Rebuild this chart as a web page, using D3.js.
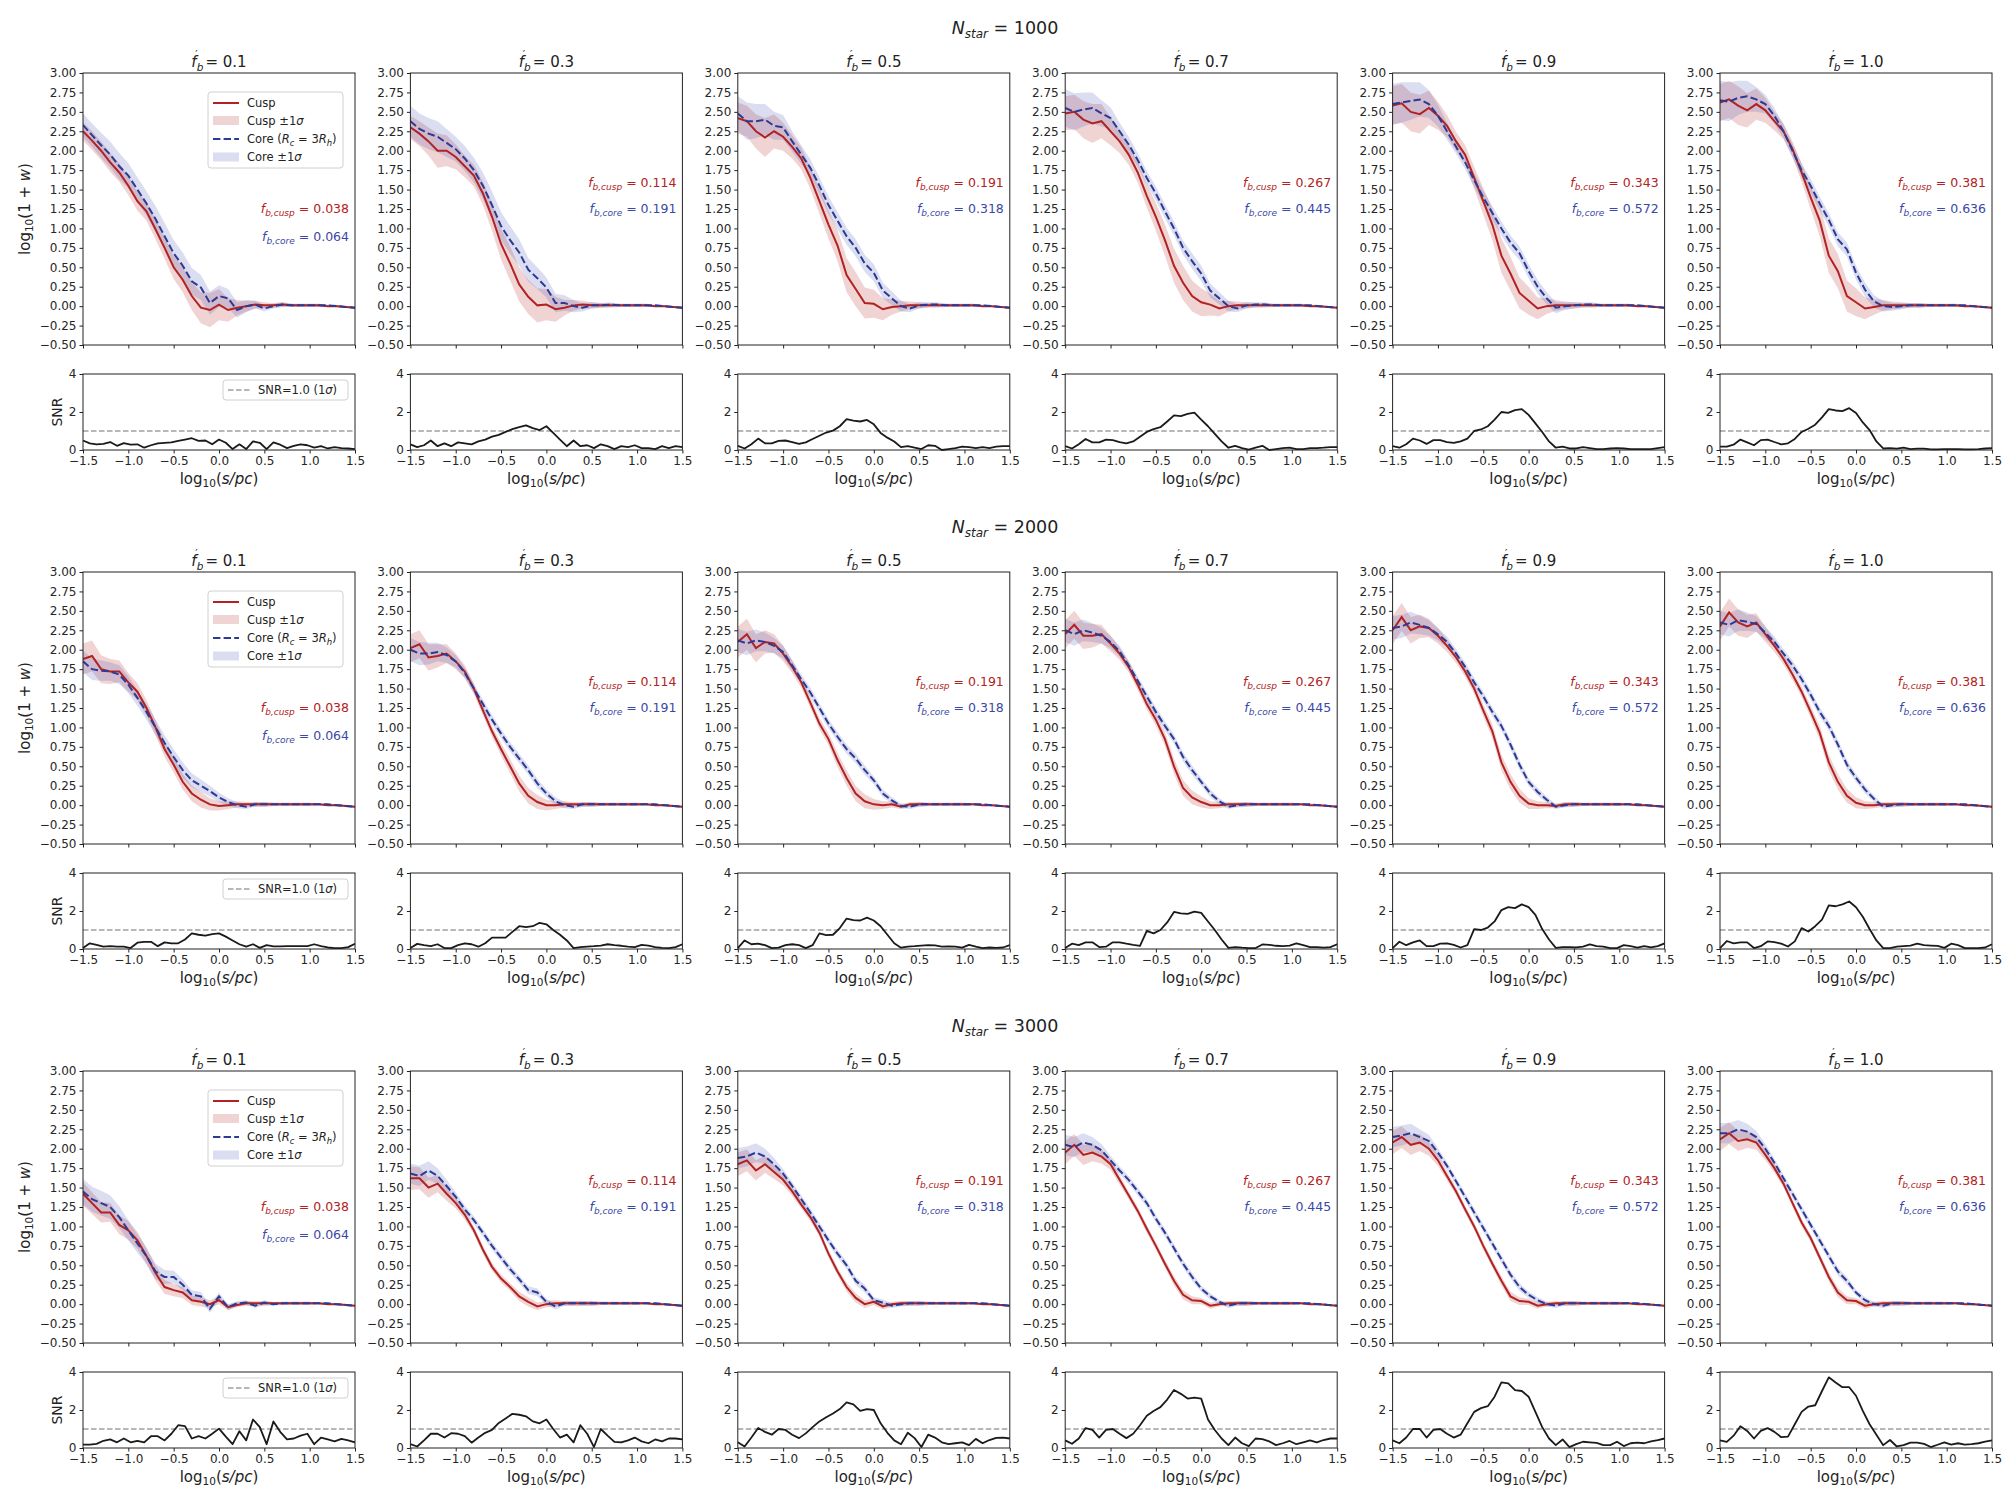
<!DOCTYPE html>
<html>
<head>
<meta charset="utf-8">
<script src="https://cdn.jsdelivr.net/npm/d3@7"></script>
<style>
body { margin: 0; background: #fff; }
svg { font-family: "DejaVu Sans", sans-serif; }
</style>
</head>
<body>
<script>
let width = 2016;
let height = 1506;

let nStars = ["1000", "2000", "3000"];
let fbPrime = ["0.1", "0.3", "0.5", "0.7", "0.9", "1.0"];
let fbCusp = ["0.038", "0.114", "0.191", "0.267", "0.343", "0.381"];
let fbCore = ["0.064", "0.191", "0.318", "0.445", "0.572", "0.636"];

let xTicks = [-1.5, -1.0, -0.5, 0.0, 0.5, 1.0, 1.5];
let yTicks = [-0.5, -0.25, 0, 0.25, 0.5, 0.75, 1, 1.25, 1.5, 1.75, 2, 2.25, 2.5, 2.75, 3];
let snrTicks = [0, 2, 4];

let xMain = [-1.5,-1.4,-1.3,-1.2,-1.1,-1.0,-0.9,-0.8,-0.7,-0.6,-0.5,-0.4,-0.3,-0.2,-0.1,0.0,0.1,0.2,0.3,0.4,0.5,0.6,0.7,0.8,0.9,1.0,1.1,1.2,1.3,1.4,1.5];
let xSnr = [-1.5,-1.425,-1.35,-1.275,-1.2,-1.125,-1.05,-0.975,-0.9,-0.825,-0.75,-0.675,-0.6,-0.525,-0.45,-0.375,-0.3,-0.225,-0.15,-0.075,0,0.075,0.15,0.225,0.3,0.375,0.45,0.525,0.6,0.675,0.75,0.825,0.9,0.975,1.05,1.125,1.2,1.275,1.35,1.425,1.5];

// mean log10(1+w), cusp model
let cusp1000 = [
  [2.25,2.13,2.0,1.85,1.72,1.55,1.35,1.22,0.99,0.75,0.5,0.34,0.13,-0.02,-0.05,0.02,-0.05,-0.02,0.0,0.02,0.01,0.01,0.02,0.01,0.01,0.01,0.01,0.0,0.0,-0.01,-0.02],
  [2.3,2.22,2.12,2.0,2.0,1.92,1.8,1.68,1.45,1.15,0.8,0.55,0.28,0.12,0.01,0.02,-0.04,-0.02,0.01,0.02,0.01,0.01,0.01,0.01,0.01,0.01,0.01,0.0,0.0,-0.01,-0.02],
  [2.42,2.38,2.25,2.17,2.25,2.18,2.05,1.9,1.65,1.35,1.05,0.78,0.4,0.22,0.04,0.03,-0.04,-0.01,0.0,0.01,0.01,0.01,0.01,0.01,0.01,0.01,0.01,0.0,0.0,-0.01,-0.02],
  [2.48,2.5,2.4,2.35,2.38,2.25,2.12,1.95,1.72,1.42,1.15,0.85,0.52,0.3,0.13,0.05,0.02,-0.03,0.0,0.01,0.01,0.01,0.01,0.01,0.01,0.01,0.01,0.0,0.0,-0.01,-0.02],
  [2.58,2.61,2.5,2.47,2.55,2.45,2.32,2.12,1.95,1.65,1.35,1.05,0.65,0.42,0.17,0.07,-0.03,0.0,0.01,0.01,0.01,0.01,0.01,0.01,0.01,0.01,0.01,0.0,0.0,-0.01,-0.02],
  [2.62,2.66,2.58,2.52,2.6,2.52,2.38,2.25,2.02,1.72,1.4,1.1,0.65,0.45,0.13,0.05,-0.03,-0.01,0.01,0.01,0.01,0.01,0.01,0.01,0.01,0.01,0.01,0.0,0.0,-0.01,-0.02]
];
let cusp2000 = [
  [1.88,1.92,1.75,1.72,1.72,1.58,1.46,1.25,1.0,0.72,0.52,0.3,0.15,0.07,0.01,-0.01,0.0,0.01,0.01,0.01,0.01,0.01,0.01,0.01,0.01,0.01,0.01,0.0,0.0,-0.01,-0.02],
  [2.02,2.07,1.9,1.92,1.95,1.85,1.72,1.5,1.22,0.95,0.72,0.5,0.28,0.12,0.04,0.0,0.0,0.01,0.01,0.01,0.01,0.01,0.01,0.01,0.01,0.01,0.01,0.0,0.0,-0.01,-0.02],
  [2.1,2.2,2.02,2.1,2.08,1.95,1.78,1.58,1.32,1.05,0.85,0.58,0.35,0.15,0.05,0.01,0.0,0.01,-0.02,0.01,0.01,0.01,0.01,0.01,0.01,0.01,0.01,0.0,0.0,-0.01,-0.02],
  [2.2,2.32,2.18,2.18,2.2,2.08,1.95,1.78,1.55,1.3,1.1,0.85,0.5,0.22,0.1,0.04,0.0,0.0,0.01,0.01,0.01,0.01,0.01,0.01,0.01,0.01,0.01,0.0,0.0,-0.01,-0.02],
  [2.25,2.42,2.25,2.3,2.28,2.18,2.05,1.9,1.72,1.5,1.22,0.95,0.55,0.3,0.12,0.02,0.0,0.0,-0.01,0.01,0.01,0.01,0.01,0.01,0.01,0.01,0.01,0.0,0.0,-0.01,-0.02],
  [2.3,2.48,2.35,2.3,2.35,2.2,2.05,1.88,1.68,1.46,1.2,0.93,0.55,0.3,0.12,0.03,0.0,0.0,0.01,0.01,0.01,0.01,0.01,0.01,0.01,0.01,0.01,0.0,0.0,-0.01,-0.02]
];
let cusp3000 = [
  [1.42,1.3,1.18,1.18,1.02,0.95,0.82,0.62,0.4,0.22,0.18,0.15,0.05,0.03,0.0,0.05,-0.04,-0.01,0.01,0.01,0.01,0.01,0.01,0.01,0.01,0.01,0.01,0.0,0.0,-0.01,-0.02],
  [1.62,1.62,1.5,1.55,1.42,1.3,1.15,0.95,0.7,0.48,0.33,0.22,0.1,0.03,-0.03,0.0,0.01,0.01,0.01,0.01,0.01,0.01,0.01,0.01,0.01,0.01,0.01,0.0,0.0,-0.01,-0.02],
  [1.8,1.85,1.72,1.8,1.7,1.6,1.45,1.28,1.12,0.92,0.65,0.42,0.22,0.08,0.0,0.03,-0.03,0.0,0.01,0.01,0.01,0.01,0.01,0.01,0.01,0.01,0.01,0.0,0.0,-0.01,-0.02],
  [1.95,2.05,1.92,1.95,1.9,1.8,1.6,1.4,1.2,0.97,0.75,0.52,0.3,0.12,0.05,0.04,-0.02,0.0,0.01,0.01,0.01,0.01,0.01,0.01,0.01,0.01,0.01,0.0,0.0,-0.01,-0.02],
  [2.08,2.15,2.05,2.08,2.0,1.85,1.65,1.45,1.22,1.0,0.75,0.52,0.3,0.1,0.04,0.03,-0.02,0.0,0.01,0.01,0.01,0.01,0.01,0.01,0.01,0.01,0.01,0.0,0.0,-0.01,-0.02],
  [2.12,2.2,2.1,2.12,2.08,1.92,1.75,1.55,1.3,1.05,0.85,0.6,0.35,0.15,0.05,0.04,-0.02,0.0,0.01,0.01,0.01,0.01,0.01,0.01,0.01,0.01,0.01,0.0,0.0,-0.01,-0.02]
];

// mean log10(1+w), core model (Rc = 3Rh)
let core1000 = [
  [2.33,2.2,2.07,1.95,1.8,1.68,1.5,1.32,1.12,0.9,0.68,0.52,0.32,0.24,0.04,0.13,0.1,-0.05,0.0,0.02,-0.03,0.0,0.02,0.01,0.01,0.01,0.01,0.01,0.0,-0.01,-0.02],
  [2.38,2.28,2.22,2.18,2.1,2.02,1.9,1.75,1.55,1.3,1.03,0.85,0.69,0.47,0.36,0.24,0.04,0.04,0.0,-0.02,0.01,0.01,0.02,0.01,0.01,0.01,0.01,0.01,0.0,-0.01,-0.02],
  [2.48,2.38,2.38,2.4,2.32,2.3,2.12,1.95,1.78,1.55,1.3,1.1,0.9,0.75,0.55,0.43,0.2,0.1,0.0,-0.03,0.01,0.02,0.02,0.01,0.01,0.01,0.01,0.01,0.0,-0.01,-0.02],
  [2.55,2.5,2.53,2.55,2.48,2.42,2.25,2.08,1.88,1.65,1.45,1.22,1.0,0.75,0.58,0.42,0.2,0.1,0.0,-0.03,0.01,0.02,0.02,0.01,0.01,0.01,0.01,0.01,0.0,-0.01,-0.02],
  [2.6,2.62,2.64,2.66,2.6,2.45,2.25,2.05,1.85,1.62,1.4,1.2,1.0,0.82,0.68,0.45,0.25,0.1,-0.02,0.0,0.01,0.02,0.02,0.01,0.01,0.01,0.01,0.01,0.0,-0.01,-0.02],
  [2.65,2.63,2.68,2.7,2.66,2.6,2.45,2.25,2.0,1.75,1.55,1.32,1.11,0.86,0.73,0.43,0.21,0.06,0.0,-0.01,0.0,0.01,0.01,0.01,0.01,0.01,0.01,0.01,0.0,-0.01,-0.02]
];
let core2000 = [
  [1.85,1.75,1.73,1.72,1.68,1.55,1.38,1.2,1.0,0.8,0.62,0.45,0.32,0.25,0.18,0.1,0.04,0.0,-0.02,0.01,0.01,0.01,0.01,0.01,0.01,0.01,0.01,0.01,0.0,-0.01,-0.02],
  [2.0,1.95,1.95,1.97,1.93,1.85,1.7,1.5,1.3,1.1,0.92,0.75,0.6,0.45,0.28,0.15,0.05,0.0,-0.02,0.01,0.01,0.01,0.01,0.01,0.01,0.01,0.01,0.01,0.0,-0.01,-0.02],
  [2.12,2.08,2.12,2.1,2.05,1.97,1.8,1.62,1.45,1.25,1.05,0.88,0.72,0.6,0.45,0.32,0.15,0.06,-0.01,-0.02,0.01,0.01,0.01,0.01,0.01,0.01,0.01,0.01,0.0,-0.01,-0.02],
  [2.25,2.2,2.25,2.22,2.18,2.1,1.98,1.8,1.6,1.4,1.2,1.02,0.85,0.62,0.45,0.3,0.15,0.05,-0.02,0.0,0.01,0.01,0.01,0.01,0.01,0.01,0.01,0.01,0.0,-0.01,-0.02],
  [2.28,2.3,2.35,2.32,2.28,2.2,2.1,1.95,1.78,1.58,1.4,1.2,1.02,0.78,0.52,0.3,0.17,0.07,-0.02,0.0,0.01,0.01,0.01,0.01,0.01,0.01,0.01,0.01,0.0,-0.01,-0.02],
  [2.35,2.32,2.38,2.36,2.33,2.22,2.1,1.95,1.8,1.62,1.42,1.2,1.02,0.78,0.52,0.35,0.2,0.08,-0.02,0.0,0.01,0.01,0.01,0.01,0.01,0.01,0.01,0.01,0.0,-0.01,-0.02]
];
let core3000 = [
  [1.45,1.35,1.3,1.25,1.12,0.95,0.78,0.62,0.42,0.35,0.35,0.25,0.12,0.1,-0.06,0.1,-0.04,0.01,0.02,-0.02,0.02,0.0,0.01,0.01,0.01,0.01,0.01,0.01,0.0,-0.01,-0.02],
  [1.68,1.65,1.72,1.65,1.52,1.38,1.22,1.08,0.92,0.75,0.6,0.45,0.32,0.18,0.15,0.03,-0.03,0.01,0.01,0.01,0.01,0.01,0.01,0.01,0.01,0.01,0.01,0.01,0.0,-0.01,-0.02],
  [1.88,1.9,1.95,1.9,1.8,1.68,1.52,1.35,1.18,1.0,0.82,0.65,0.5,0.3,0.2,0.05,0.02,-0.02,0.0,0.01,0.01,0.01,0.01,0.01,0.01,0.01,0.01,0.01,0.0,-0.01,-0.02],
  [2.05,2.02,2.08,2.05,1.98,1.85,1.72,1.6,1.45,1.3,1.1,0.92,0.72,0.52,0.35,0.2,0.1,0.03,-0.02,0.01,0.01,0.01,0.01,0.01,0.01,0.01,0.01,0.01,0.0,-0.01,-0.02],
  [2.15,2.17,2.2,2.15,2.1,1.95,1.78,1.58,1.38,1.18,0.98,0.78,0.58,0.38,0.22,0.12,0.05,0.0,-0.02,0.01,0.01,0.01,0.01,0.01,0.01,0.01,0.01,0.01,0.0,-0.01,-0.02],
  [2.2,2.2,2.25,2.22,2.15,2.0,1.82,1.62,1.42,1.22,1.02,0.82,0.62,0.42,0.3,0.15,0.05,0.0,-0.02,0.01,0.01,0.01,0.01,0.01,0.01,0.01,0.01,0.01,0.0,-0.01,-0.02]
];

// 1 sigma half-widths
let cuspSig1000 = [
  [0.12,0.12,0.12,0.12,0.12,0.12,0.12,0.12,0.13,0.14,0.15,0.16,0.18,0.2,0.22,0.2,0.15,0.1,0.07,0.05,0.04,0.03,0.03,0.02,0.02,0.02,0.02,0.01,0.01,0.01,0.01],
  [0.15,0.16,0.18,0.22,0.2,0.16,0.14,0.14,0.15,0.18,0.2,0.22,0.22,0.22,0.22,0.2,0.16,0.1,0.07,0.05,0.04,0.03,0.03,0.02,0.02,0.02,0.02,0.01,0.01,0.01,0.01],
  [0.2,0.2,0.22,0.25,0.22,0.18,0.15,0.14,0.14,0.16,0.18,0.2,0.22,0.22,0.2,0.18,0.14,0.1,0.07,0.05,0.04,0.03,0.03,0.02,0.02,0.02,0.02,0.01,0.01,0.01,0.01],
  [0.22,0.22,0.24,0.25,0.22,0.18,0.15,0.13,0.13,0.15,0.18,0.2,0.22,0.22,0.2,0.18,0.14,0.1,0.07,0.05,0.04,0.03,0.03,0.02,0.02,0.02,0.02,0.01,0.01,0.01,0.01],
  [0.25,0.25,0.25,0.25,0.22,0.18,0.14,0.12,0.12,0.14,0.17,0.2,0.22,0.22,0.2,0.18,0.14,0.1,0.07,0.05,0.04,0.03,0.03,0.02,0.02,0.02,0.02,0.01,0.01,0.01,0.01],
  [0.24,0.24,0.25,0.22,0.2,0.16,0.12,0.1,0.1,0.12,0.15,0.2,0.22,0.22,0.2,0.18,0.14,0.1,0.07,0.05,0.04,0.03,0.03,0.02,0.02,0.02,0.02,0.01,0.01,0.01,0.01]
];
let coreSig1000 = [
  [0.15,0.15,0.16,0.17,0.17,0.16,0.16,0.16,0.17,0.17,0.17,0.17,0.17,0.16,0.15,0.14,0.12,0.1,0.08,0.05,0.04,0.03,0.03,0.02,0.02,0.02,0.02,0.01,0.01,0.01,0.01],
  [0.2,0.2,0.2,0.2,0.18,0.16,0.16,0.16,0.17,0.18,0.18,0.18,0.17,0.15,0.14,0.13,0.12,0.1,0.08,0.05,0.04,0.03,0.03,0.02,0.02,0.02,0.02,0.01,0.01,0.01,0.01],
  [0.22,0.24,0.22,0.2,0.18,0.16,0.13,0.12,0.11,0.11,0.11,0.11,0.11,0.11,0.11,0.11,0.1,0.09,0.07,0.05,0.04,0.03,0.03,0.02,0.02,0.02,0.02,0.01,0.01,0.01,0.01],
  [0.24,0.24,0.22,0.2,0.17,0.14,0.11,0.1,0.09,0.09,0.09,0.09,0.09,0.09,0.1,0.1,0.09,0.08,0.07,0.05,0.04,0.03,0.03,0.02,0.02,0.02,0.02,0.01,0.01,0.01,0.01],
  [0.26,0.26,0.24,0.22,0.18,0.14,0.11,0.09,0.09,0.09,0.09,0.09,0.09,0.09,0.09,0.09,0.09,0.08,0.07,0.05,0.04,0.03,0.03,0.02,0.02,0.02,0.02,0.01,0.01,0.01,0.01],
  [0.25,0.25,0.22,0.2,0.16,0.12,0.1,0.09,0.09,0.09,0.09,0.09,0.09,0.09,0.09,0.09,0.09,0.08,0.07,0.05,0.04,0.03,0.03,0.02,0.02,0.02,0.02,0.01,0.01,0.01,0.01]
];
let cuspSig2000 = [
  [0.2,0.2,0.18,0.16,0.14,0.12,0.11,0.1,0.1,0.1,0.1,0.1,0.1,0.1,0.08,0.06,0.05,0.04,0.03,0.03,0.03,0.02,0.02,0.02,0.02,0.02,0.01,0.01,0.01,0.01,0.01],
  [0.18,0.18,0.17,0.15,0.12,0.1,0.08,0.07,0.07,0.07,0.08,0.09,0.1,0.1,0.09,0.07,0.05,0.04,0.03,0.03,0.03,0.02,0.02,0.02,0.02,0.02,0.01,0.01,0.01,0.01,0.01],
  [0.2,0.2,0.18,0.15,0.12,0.1,0.08,0.07,0.07,0.07,0.08,0.09,0.1,0.1,0.09,0.07,0.05,0.04,0.03,0.03,0.03,0.02,0.02,0.02,0.02,0.02,0.01,0.01,0.01,0.01,0.01],
  [0.18,0.18,0.17,0.15,0.12,0.1,0.08,0.07,0.07,0.07,0.08,0.09,0.1,0.1,0.09,0.07,0.05,0.04,0.03,0.03,0.03,0.02,0.02,0.02,0.02,0.02,0.01,0.01,0.01,0.01,0.01],
  [0.18,0.18,0.17,0.15,0.12,0.1,0.08,0.07,0.07,0.07,0.08,0.09,0.1,0.1,0.09,0.07,0.05,0.04,0.03,0.03,0.03,0.02,0.02,0.02,0.02,0.02,0.01,0.01,0.01,0.01,0.01],
  [0.18,0.18,0.17,0.15,0.12,0.1,0.08,0.07,0.07,0.07,0.08,0.09,0.1,0.1,0.09,0.07,0.05,0.04,0.03,0.03,0.03,0.02,0.02,0.02,0.02,0.02,0.01,0.01,0.01,0.01,0.01]
];
let coreSig2000 = [
  [0.14,0.14,0.13,0.12,0.12,0.11,0.1,0.1,0.1,0.1,0.1,0.1,0.09,0.08,0.07,0.06,0.05,0.04,0.03,0.03,0.03,0.02,0.02,0.02,0.02,0.02,0.01,0.01,0.01,0.01,0.01],
  [0.15,0.15,0.14,0.12,0.1,0.08,0.07,0.06,0.06,0.06,0.06,0.06,0.06,0.06,0.06,0.05,0.05,0.04,0.03,0.03,0.03,0.02,0.02,0.02,0.02,0.02,0.01,0.01,0.01,0.01,0.01],
  [0.15,0.15,0.14,0.12,0.1,0.08,0.07,0.06,0.06,0.06,0.06,0.06,0.06,0.06,0.06,0.05,0.05,0.04,0.03,0.03,0.03,0.02,0.02,0.02,0.02,0.02,0.01,0.01,0.01,0.01,0.01],
  [0.15,0.15,0.14,0.12,0.1,0.08,0.07,0.06,0.06,0.06,0.06,0.06,0.06,0.06,0.06,0.05,0.05,0.04,0.03,0.03,0.03,0.02,0.02,0.02,0.02,0.02,0.01,0.01,0.01,0.01,0.01],
  [0.15,0.15,0.14,0.12,0.1,0.08,0.07,0.06,0.06,0.06,0.06,0.06,0.06,0.06,0.06,0.05,0.05,0.04,0.03,0.03,0.03,0.02,0.02,0.02,0.02,0.02,0.01,0.01,0.01,0.01,0.01],
  [0.15,0.15,0.14,0.12,0.1,0.08,0.07,0.06,0.06,0.06,0.06,0.06,0.06,0.06,0.06,0.05,0.05,0.04,0.03,0.03,0.03,0.02,0.02,0.02,0.02,0.02,0.01,0.01,0.01,0.01,0.01]
];
let cuspSig3000 = [
  [0.15,0.14,0.13,0.12,0.12,0.12,0.11,0.1,0.1,0.09,0.08,0.07,0.06,0.06,0.05,0.05,0.04,0.03,0.03,0.03,0.03,0.02,0.02,0.02,0.02,0.02,0.01,0.01,0.01,0.01,0.01],
  [0.15,0.14,0.13,0.11,0.09,0.07,0.06,0.05,0.05,0.05,0.05,0.05,0.06,0.06,0.05,0.04,0.04,0.03,0.03,0.03,0.03,0.02,0.02,0.02,0.02,0.02,0.01,0.01,0.01,0.01,0.01],
  [0.15,0.14,0.13,0.11,0.09,0.07,0.06,0.05,0.05,0.05,0.05,0.05,0.06,0.06,0.05,0.04,0.04,0.03,0.03,0.03,0.03,0.02,0.02,0.02,0.02,0.02,0.01,0.01,0.01,0.01,0.01],
  [0.15,0.14,0.13,0.11,0.09,0.07,0.06,0.05,0.05,0.05,0.05,0.05,0.06,0.06,0.05,0.04,0.04,0.03,0.03,0.03,0.03,0.02,0.02,0.02,0.02,0.02,0.01,0.01,0.01,0.01,0.01],
  [0.15,0.14,0.13,0.11,0.09,0.07,0.06,0.05,0.05,0.05,0.05,0.05,0.06,0.06,0.05,0.04,0.04,0.03,0.03,0.03,0.03,0.02,0.02,0.02,0.02,0.02,0.01,0.01,0.01,0.01,0.01],
  [0.15,0.14,0.13,0.11,0.09,0.07,0.06,0.05,0.05,0.05,0.05,0.05,0.06,0.06,0.05,0.04,0.04,0.03,0.03,0.03,0.03,0.02,0.02,0.02,0.02,0.02,0.01,0.01,0.01,0.01,0.01]
];
let coreSig3000 = [
  [0.16,0.16,0.16,0.15,0.14,0.13,0.12,0.11,0.1,0.09,0.08,0.07,0.06,0.06,0.05,0.05,0.04,0.03,0.03,0.03,0.03,0.02,0.02,0.02,0.02,0.02,0.01,0.01,0.01,0.01,0.01],
  [0.13,0.13,0.12,0.1,0.08,0.06,0.05,0.05,0.05,0.05,0.05,0.05,0.05,0.05,0.05,0.04,0.04,0.03,0.03,0.03,0.03,0.02,0.02,0.02,0.02,0.02,0.01,0.01,0.01,0.01,0.01],
  [0.13,0.13,0.12,0.1,0.08,0.06,0.05,0.05,0.05,0.05,0.05,0.05,0.05,0.05,0.05,0.04,0.04,0.03,0.03,0.03,0.03,0.02,0.02,0.02,0.02,0.02,0.01,0.01,0.01,0.01,0.01],
  [0.13,0.13,0.12,0.1,0.08,0.06,0.05,0.05,0.05,0.05,0.05,0.05,0.05,0.05,0.05,0.04,0.04,0.03,0.03,0.03,0.03,0.02,0.02,0.02,0.02,0.02,0.01,0.01,0.01,0.01,0.01],
  [0.13,0.13,0.12,0.1,0.08,0.06,0.05,0.05,0.05,0.05,0.05,0.05,0.05,0.05,0.05,0.04,0.04,0.03,0.03,0.03,0.03,0.02,0.02,0.02,0.02,0.02,0.01,0.01,0.01,0.01,0.01],
  [0.13,0.13,0.12,0.1,0.08,0.06,0.05,0.05,0.05,0.05,0.05,0.05,0.05,0.05,0.05,0.04,0.04,0.03,0.03,0.03,0.03,0.02,0.02,0.02,0.02,0.02,0.01,0.01,0.01,0.01,0.01]
];

// SNR curves
let snr1000 = [
  [0.5,0.35,0.3,0.32,0.42,0.22,0.36,0.28,0.3,0.12,0.25,0.35,0.38,0.4,0.48,0.55,0.62,0.48,0.5,0.3,0.55,0.38,0.05,0.3,0.05,0.45,0.38,0.05,0.4,0.28,0.1,0.22,0.3,0.25,0.12,0.2,0.08,0.15,0.1,0.08,0.05],
  [0.3,0.15,0.25,0.5,0.2,0.35,0.2,0.4,0.35,0.3,0.45,0.55,0.7,0.8,0.95,1.1,1.2,1.3,1.15,1.05,1.25,0.9,0.55,0.2,0.5,0.2,0.25,0.1,0.3,0.2,0.05,0.2,0.15,0.25,0.1,0.1,0.05,0.2,0.1,0.2,0.15],
  [0.22,0.08,0.3,0.6,0.35,0.35,0.48,0.5,0.42,0.32,0.4,0.58,0.75,0.92,1.02,1.25,1.62,1.55,1.5,1.58,1.35,0.9,0.65,0.45,0.15,0.2,0.12,0.05,0.25,0.22,0.0,0.05,0.1,0.18,0.15,0.1,0.15,0.1,0.18,0.2,0.2],
  [0.2,0.08,0.3,0.58,0.4,0.4,0.55,0.52,0.42,0.35,0.45,0.7,0.95,1.1,1.2,1.5,1.82,1.78,1.9,1.97,1.6,1.25,0.85,0.45,0.12,0.22,0.1,0.02,0.12,0.22,0.0,0.05,0.1,0.12,0.05,0.05,0.1,0.1,0.12,0.15,0.15],
  [0.2,0.12,0.3,0.6,0.5,0.32,0.52,0.52,0.42,0.38,0.45,0.6,1.0,1.08,1.25,1.6,2.0,1.95,2.1,2.15,1.85,1.4,0.95,0.45,0.12,0.18,0.08,0.08,0.15,0.1,0.05,0.05,0.08,0.1,0.08,0.05,0.05,0.05,0.05,0.1,0.15],
  [0.18,0.18,0.28,0.55,0.4,0.25,0.52,0.55,0.42,0.3,0.35,0.58,0.95,1.12,1.33,1.72,2.15,2.08,2.05,2.2,1.95,1.45,1.05,0.45,0.08,0.1,0.07,0.12,0.05,0.07,0.07,0.03,0.03,0.05,0.05,0.05,0.03,0.03,0.05,0.08,0.1]
];
let snr2000 = [
  [0.05,0.3,0.22,0.12,0.15,0.12,0.12,0.05,0.33,0.38,0.38,0.15,0.35,0.3,0.3,0.5,0.82,0.75,0.7,0.78,0.82,0.65,0.45,0.25,0.12,0.25,0.06,0.2,0.14,0.14,0.15,0.15,0.15,0.15,0.25,0.15,0.08,0.05,0.05,0.1,0.28],
  [0.05,0.27,0.2,0.15,0.25,0.05,0.05,0.2,0.3,0.25,0.12,0.3,0.6,0.6,0.6,0.9,1.2,1.15,1.2,1.38,1.3,1.0,0.75,0.45,0.05,0.1,0.13,0.15,0.18,0.25,0.2,0.17,0.13,0.1,0.22,0.18,0.1,0.06,0.05,0.1,0.25],
  [0.05,0.45,0.25,0.28,0.2,0.05,0.07,0.2,0.25,0.2,0.05,0.2,0.82,0.73,0.75,1.1,1.6,1.52,1.5,1.65,1.5,1.2,0.75,0.3,0.07,0.13,0.15,0.18,0.2,0.19,0.13,0.14,0.12,0.07,0.22,0.12,0.05,0.08,0.06,0.08,0.2],
  [0.05,0.28,0.2,0.35,0.35,0.1,0.12,0.35,0.35,0.28,0.22,0.17,0.95,0.82,1.0,1.4,1.95,1.88,1.85,1.97,1.9,1.45,1.0,0.5,0.06,0.1,0.07,0.05,0.05,0.24,0.22,0.17,0.15,0.18,0.3,0.2,0.1,0.1,0.07,0.1,0.25],
  [0.05,0.38,0.2,0.35,0.45,0.15,0.15,0.28,0.3,0.22,0.08,0.2,1.05,1.0,1.13,1.45,2.05,2.2,2.15,2.35,2.2,1.8,1.05,0.5,0.06,0.1,0.1,0.08,0.12,0.24,0.15,0.12,0.05,0.05,0.2,0.15,0.07,0.15,0.08,0.15,0.3],
  [0.05,0.42,0.3,0.35,0.35,0.05,0.15,0.4,0.36,0.28,0.13,0.4,1.1,0.92,1.2,1.55,2.3,2.25,2.35,2.5,2.2,1.7,1.05,0.45,0.05,0.05,0.12,0.15,0.18,0.28,0.2,0.18,0.16,0.06,0.28,0.2,0.05,0.05,0.05,0.08,0.25]
];
let snr3000 = [
  [0.18,0.18,0.22,0.38,0.45,0.3,0.5,0.3,0.38,0.3,0.62,0.62,0.4,0.75,1.2,1.15,0.5,0.62,0.5,0.75,1.02,0.6,0.2,0.88,0.4,1.5,1.1,0.2,1.4,0.85,0.45,0.5,0.65,0.75,0.2,0.55,0.45,0.35,0.48,0.4,0.3],
  [0.2,0.08,0.4,0.75,0.75,0.55,0.78,0.75,0.62,0.28,0.55,0.8,0.95,1.32,1.55,1.8,1.75,1.67,1.4,1.3,1.5,1.0,0.55,0.7,0.3,1.2,0.75,0.05,1.0,0.65,0.32,0.3,0.4,0.55,0.35,0.25,0.45,0.35,0.5,0.5,0.45],
  [0.3,0.08,0.55,1.05,0.85,0.7,1.0,0.95,0.7,0.52,0.77,1.1,1.4,1.62,1.82,2.05,2.4,2.3,1.95,2.05,2.0,1.3,0.8,0.4,0.2,0.8,0.52,0.05,0.7,0.55,0.3,0.2,0.25,0.3,0.15,0.48,0.25,0.42,0.53,0.55,0.5],
  [0.4,0.22,0.5,1.05,0.95,0.55,0.95,1.0,0.75,0.52,0.75,1.2,1.7,1.95,2.15,2.55,3.05,2.85,2.6,2.65,2.6,1.5,0.95,0.5,0.15,0.55,0.25,0.1,0.5,0.47,0.35,0.15,0.25,0.37,0.2,0.3,0.4,0.3,0.42,0.5,0.5],
  [0.4,0.25,0.55,1.0,1.0,0.55,0.95,1.0,0.75,0.55,0.7,1.3,1.9,2.1,2.2,2.7,3.45,3.4,3.05,3.0,2.7,1.9,1.1,0.5,0.15,0.45,0.05,0.2,0.33,0.3,0.27,0.15,0.15,0.33,0.1,0.25,0.28,0.25,0.35,0.42,0.5],
  [0.4,0.32,0.65,1.15,0.9,0.5,0.9,1.05,0.85,0.57,0.6,1.25,1.9,2.18,2.25,3.0,3.72,3.45,3.2,3.2,2.75,1.95,1.25,0.7,0.15,0.42,0.08,0.15,0.28,0.28,0.22,0.05,0.17,0.3,0.18,0.25,0.18,0.2,0.25,0.33,0.4]
];

let cuspRows = [cusp1000, cusp2000, cusp3000];
let coreRows = [core1000, core2000, core3000];
let cuspSigRows = [cuspSig1000, cuspSig2000, cuspSig3000];
let coreSigRows = [coreSig1000, coreSig2000, coreSig3000];
let snrRows = [snr1000, snr2000, snr3000];

let cuspColor = "#b22222";
let coreColor = "#2c3a96";
let coreFill = "#4a5ab8";
let coreText = "#3a48a6";
let axisColor = "#222";

let svg = d3.select("body")
            .append("svg")
            .attr("width", width)
            .attr("height", height);

svg.append("rect").attr("width", width).attr("height", height).attr("fill", "white");

let panelW = 272;
let panelH = 272;
let snrH = 76;
let colX = (c) => 83 + c * 327.4;
let rowY = (r) => 73 + r * 499;
let snrOffset = 301;

let x = d3.scaleLinear().domain([-1.5, 1.5]).range([0, panelW]);
let y = d3.scaleLinear().domain([-0.5, 3]).range([panelH, 0]);
let ySnr = d3.scaleLinear().domain([0, 4]).range([snrH, 0]);

function styleAxis(g) {
    g.attr("font-size", 12)
     .attr("font-family", "DejaVu Sans, sans-serif")
     .attr("color", axisColor);
    g.select(".domain").remove();
    g.selectAll(".tick line").attr("stroke-width", 1);
    g.selectAll(".tick text").attr("fill", "#262626");
}

function frame(g, h) {
    g.append("rect")
        .attr("width", panelW)
        .attr("height", h)
        .attr("fill", "none")
        .attr("stroke", axisColor)
        .attr("stroke-width", 1);
}

function subText(t, main, sub, opts) {
    t.append("tspan").attr("font-style", "italic").text(main);
    t.append("tspan").attr("font-style", "italic")
        .attr("font-size", opts.subSize).attr("dy", opts.subDy).text(sub);
    return t;
}

let clipId = 0;

function drawMain(r, c) {
    let g = svg.append("g").attr("transform", `translate(${colX(c)},${rowY(r)})`);
    let cusp = cuspRows[r][c], core = coreRows[r][c];
    let sCusp = cuspSigRows[r][c], sCore = coreSigRows[r][c];

    let id = "clip" + (clipId++);
    g.append("clipPath").attr("id", id)
        .append("rect").attr("width", panelW).attr("height", panelH);
    let plot = g.append("g").attr("clip-path", `url(#${id})`);

    let band = (mean, sig) => d3.area()
        .x((d, i) => x(xMain[i]))
        .y0((d, i) => y(mean[i] - sig[i]))
        .y1((d, i) => y(mean[i] + sig[i]))(mean);
    let line = d3.line().x((d, i) => x(xMain[i])).y((d) => y(d));

    plot.append("path").attr("d", band(cusp, sCusp))
        .attr("fill", cuspColor).attr("fill-opacity", 0.2);
    plot.append("path").attr("d", band(core, sCore))
        .attr("fill", coreFill).attr("fill-opacity", 0.2);
    plot.append("path").attr("d", line(cusp))
        .attr("fill", "none").attr("stroke", cuspColor).attr("stroke-width", 2);
    plot.append("path").attr("d", line(core))
        .attr("fill", "none").attr("stroke", coreColor).attr("stroke-width", 2)
        .attr("stroke-dasharray", "7.4,3.2");

    g.append("g")
        .call(d3.axisLeft(y).tickValues(yTicks).tickFormat(d3.format(".2f")).tickSize(3.5).tickPadding(3))
        .call(styleAxis);
    g.append("g")
        .attr("transform", `translate(0,${panelH})`)
        .call(d3.axisBottom(x).tickValues(xTicks).tickFormat("").tickSize(3.5))
        .call(styleAxis);
    frame(g, panelH);

    // column title f'_b
    let t = g.append("text").attr("x", panelW / 2).attr("y", -6)
        .attr("text-anchor", "middle").attr("font-size", 15).attr("fill", "#222");
    t.append("tspan").attr("font-style", "italic").text("f");
    t.append("tspan").attr("font-style", "italic").attr("font-size", 10.5).attr("dy", 4).text("b");
    t.append("tspan").attr("font-size", 10.5).attr("dx", -8).attr("dy", -13).text("′");
    t.append("tspan").attr("dx", 3).attr("dy", 9).text(" = " + fbPrime[c]);

    // fb annotations
    let ay = c === 0 ? [139.5, 168] : [113.5, 139.5];
    let a1 = g.append("text").attr("x", panelW - 6).attr("y", ay[0])
        .attr("text-anchor", "end").attr("font-size", 12.5).attr("fill", cuspColor);
    subText(a1, "f", "b,cusp", {subSize: 9, subDy: 3});
    a1.append("tspan").attr("dy", -3).text(" = " + fbCusp[c]);
    let a2 = g.append("text").attr("x", panelW - 6).attr("y", ay[1])
        .attr("text-anchor", "end").attr("font-size", 12.5).attr("fill", coreText);
    subText(a2, "f", "b,core", {subSize: 9, subDy: 3});
    a2.append("tspan").attr("dy", -3).text(" = " + fbCore[c]);

    if (c === 0) {
        // y label log10(1 + w)
        let yl = g.append("text")
            .attr("transform", `translate(-53,${panelH / 2}) rotate(-90)`)
            .attr("text-anchor", "middle").attr("font-size", 15).attr("fill", "#222");
        yl.append("tspan").text("log");
        yl.append("tspan").attr("font-size", 10.5).attr("dy", 3).text("10");
        yl.append("tspan").attr("dy", -3).text("(1 + ");
        yl.append("tspan").attr("font-style", "italic").text("w");
        yl.append("tspan").text(")");

        drawLegend(g);
    }
}

function drawLegend(g) {
    let lg = g.append("g").attr("transform", "translate(125,19)");
    lg.append("rect").attr("width", 135).attr("height", 76).attr("rx", 3)
        .attr("fill", "white").attr("fill-opacity", 0.8)
        .attr("stroke", "#d0d0d0").attr("stroke-width", 1);
    let rows = [11, 28.5, 47, 65];
    lg.append("line").attr("x1", 5).attr("x2", 31).attr("y1", rows[0]).attr("y2", rows[0])
        .attr("stroke", cuspColor).attr("stroke-width", 2);
    lg.append("rect").attr("x", 5).attr("y", rows[1] - 4.5).attr("width", 26).attr("height", 9)
        .attr("fill", cuspColor).attr("fill-opacity", 0.2);
    lg.append("line").attr("x1", 5).attr("x2", 31).attr("y1", rows[2]).attr("y2", rows[2])
        .attr("stroke", coreColor).attr("stroke-width", 2).attr("stroke-dasharray", "7.4,3.2");
    lg.append("rect").attr("x", 5).attr("y", rows[3] - 4.5).attr("width", 26).attr("height", 9)
        .attr("fill", coreFill).attr("fill-opacity", 0.2);

    let txt = (i) => lg.append("text").attr("x", 39).attr("y", rows[i] + 4)
        .attr("font-size", 11.5).attr("fill", "#222");
    txt(0).text("Cusp");
    let t1 = txt(1); t1.append("tspan").text("Cusp ±1");
    t1.append("tspan").attr("font-style", "italic").text("σ");
    let t2 = txt(2); t2.append("tspan").text("Core (");
    t2.append("tspan").attr("font-style", "italic").text("R");
    t2.append("tspan").attr("font-style", "italic").attr("font-size", 8.5).attr("dy", 2.5).text("c");
    t2.append("tspan").attr("dy", -2.5).text(" = 3");
    t2.append("tspan").attr("font-style", "italic").text("R");
    t2.append("tspan").attr("font-style", "italic").attr("font-size", 8.5).attr("dy", 2.5).text("h");
    t2.append("tspan").attr("dy", -2.5).text(")");
    let t3 = txt(3); t3.append("tspan").text("Core ±1");
    t3.append("tspan").attr("font-style", "italic").text("σ");
}

function drawSnr(r, c) {
    let g = svg.append("g").attr("transform", `translate(${colX(c)},${rowY(r) + snrOffset})`);
    let snr = snrRows[r][c];

    g.append("line")
        .attr("x1", x(-1.5)).attr("x2", x(1.5))
        .attr("y1", ySnr(1)).attr("y2", ySnr(1))
        .attr("stroke", "#a0a0a0").attr("stroke-width", 1.5).attr("stroke-dasharray", "5.5,2.5");

    g.append("path")
        .attr("d", d3.line().x((d, i) => x(xSnr[i])).y((d) => ySnr(d))(snr))
        .attr("fill", "none").attr("stroke", "#1a1a1a").attr("stroke-width", 1.8)
        .attr("stroke-linejoin", "round");

    g.append("g")
        .call(d3.axisLeft(ySnr).tickValues(snrTicks).tickFormat(d3.format("d")).tickSize(3.5).tickPadding(3))
        .call(styleAxis);
    g.append("g")
        .attr("transform", `translate(0,${snrH})`)
        .call(d3.axisBottom(x).tickValues(xTicks).tickFormat(d3.format(".1f")).tickSize(3.5).tickPadding(3))
        .call(styleAxis);
    frame(g, snrH);

    let xl = g.append("text").attr("x", panelW / 2).attr("y", snrH + 34)
        .attr("text-anchor", "middle").attr("font-size", 15).attr("fill", "#222");
    xl.append("tspan").text("log");
    xl.append("tspan").attr("font-size", 10.5).attr("dy", 3).text("10");
    xl.append("tspan").attr("dy", -3).text("(");
    xl.append("tspan").attr("font-style", "italic").text("s/pc");
    xl.append("tspan").text(")");

    if (c === 0) {
        g.append("text")
            .attr("transform", `translate(-21,${snrH / 2}) rotate(-90)`)
            .attr("text-anchor", "middle").attr("font-size", 14).attr("fill", "#222")
            .text("SNR");

        let lg = g.append("g").attr("transform", "translate(140,6)");
        lg.append("rect").attr("width", 125).attr("height", 20).attr("rx", 3)
            .attr("fill", "white").attr("fill-opacity", 0.8)
            .attr("stroke", "#d0d0d0").attr("stroke-width", 1);
        lg.append("line").attr("x1", 5).attr("x2", 28).attr("y1", 10).attr("y2", 10)
            .attr("stroke", "#a0a0a0").attr("stroke-width", 1.5).attr("stroke-dasharray", "5.5,2.5");
        let lt = lg.append("text").attr("x", 35).attr("y", 14)
            .attr("font-size", 11.5).attr("fill", "#222");
        lt.append("tspan").text("SNR=1.0 (1");
        lt.append("tspan").attr("font-style", "italic").text("σ");
        lt.append("tspan").text(")");
    }
}

nStars.forEach((n, r) => {
    let st = svg.append("text").attr("x", 1005).attr("y", 34 + r * 499)
        .attr("text-anchor", "middle").attr("font-size", 17.5).attr("fill", "#222");
    st.append("tspan").attr("font-style", "italic").text("N");
    st.append("tspan").attr("font-style", "italic").attr("font-size", 12).attr("dy", 4).text("star");
    st.append("tspan").attr("dy", -4).text(" = " + n);

    fbPrime.forEach((f, c) => {
        drawMain(r, c);
        drawSnr(r, c);
    });
});
</script>
</body>
</html>
